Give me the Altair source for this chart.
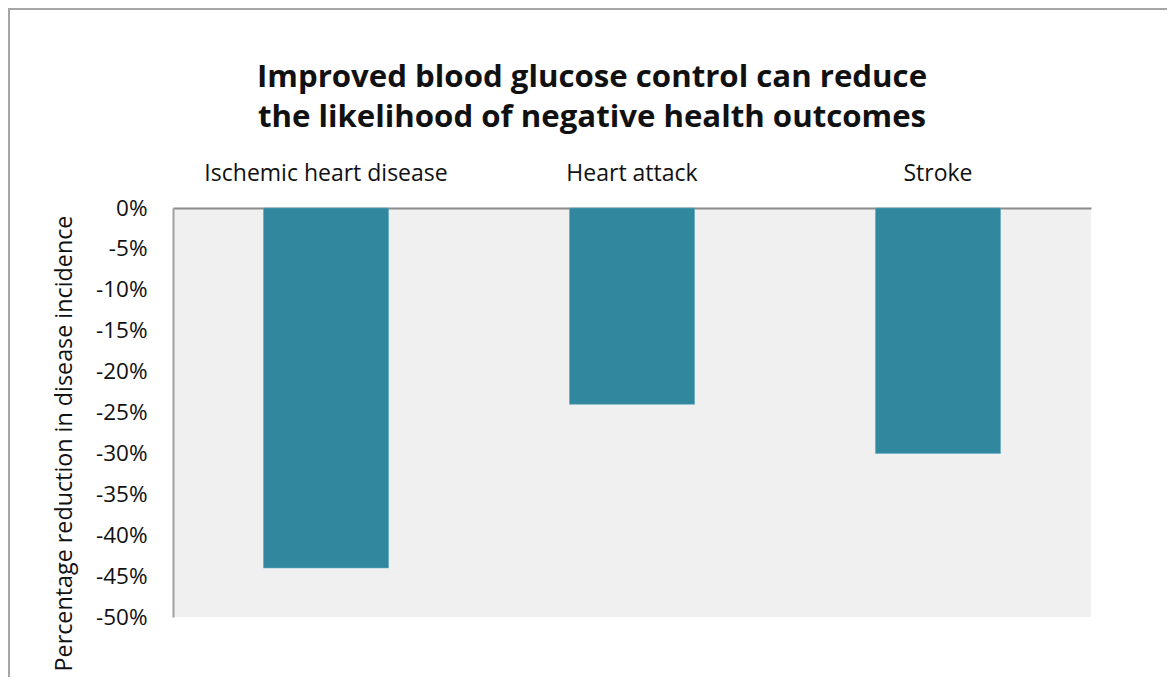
import altair as alt
import pandas as pd

categories = ["Ischemic heart disease", "Heart attack", "Stroke"]
reductions = [-44, -24, -30]
y_ticks = [0, -5, -10, -15, -20, -25, -30, -35, -40, -45, -50]

df = pd.DataFrame({"category": categories, "value": reductions})

FONT = "Open Sans"

base = alt.Chart(df)

frame = base.mark_rect(fill="white", fillOpacity=0, stroke="#a6a6a6", strokeWidth=2).encode(
    x=alt.value(-164), x2=alt.value(1200), y=alt.value(-199), y2=alt.value(800)
)

bars = base.mark_bar(color="#31879e", stroke="#5aa8bd", strokeWidth=0.6).encode(
    x=alt.X(
        "category:N",
        sort=categories,
        scale=alt.Scale(paddingInner=0.5915, paddingOuter=0.2958),
        axis=alt.Axis(
            orient="top", title=None, labelAngle=0, ticks=False,
            domain=True, domainColor="#8c8c8c", domainWidth=2,
            labelFont=FONT, labelFontSize=23, labelColor="#111111",
            labelPadding=23, labelLimit=0,
        ),
    ),
    y=alt.Y(
        "value:Q",
        scale=alt.Scale(domain=[-50, 0], nice=False, zero=True),
        axis=alt.Axis(
            values=y_ticks, labelExpr="datum.value + '%'", grid=False, ticks=False,
            domain=True, domainColor="#a0a0a0", domainWidth=2,
            labelFont=FONT, labelFontSize=22.5, labelColor="#111111", labelPadding=26,
            title="Percentage reduction in disease incidence",
            titleFont=FONT, titleFontSize=23.3, titleFontWeight="normal", titleColor="#111111",
            titleAngle=270, titleX=-109, titleY=235, titleAlign="center", titleBaseline="middle",
        ),
    ),
)

chart = (
    alt.layer(frame, bars)
    .properties(
        width=918,
        height=409,
        background="white",
        autosize=alt.AutoSizeParams(type="none"),
        padding={"left": 165, "top": 200, "right": 76, "bottom": 60},
        title=alt.TitleParams(
            text=["Improved blood glucose control can reduce", "the likelihood of negative health outcomes"],
            font=FONT, fontSize=31.2, fontWeight="bold", color="#111111",
            anchor="middle", frame="group", dx=-40, lineHeight=40, offset=-125,
        ),
    )
    .configure_view(fill="#f0f0f0", stroke=None)
)

chart.save("out.html", embed_options={"renderer": "svg", "actions": False})
